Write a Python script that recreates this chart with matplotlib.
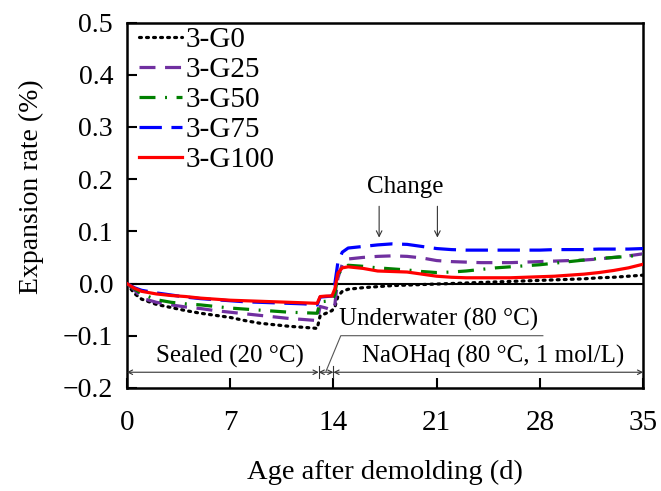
import matplotlib
matplotlib.use("Agg")
import matplotlib.pyplot as plt

days = [0, 0.5, 1, 2, 3, 4, 5, 6, 7, 8, 9, 10, 11, 12, 12.9, 13.1, 13.5, 13.9,
        14.1, 14.3, 14.6, 15, 16, 17, 18, 19, 20, 21, 22, 23, 24, 25, 26, 27, 28,
        29, 30, 31, 32, 33, 34, 35]

g0 = [0, -0.019, -0.030, -0.040, -0.046, -0.052, -0.057, -0.061, -0.065, -0.071,
      -0.076, -0.079, -0.082, -0.084, -0.086, -0.062, -0.057, -0.052,
      -0.045, -0.025, -0.015, -0.011, -0.008, -0.006, -0.004, -0.003, -0.002,
      -0.001, 0.000, 0.001, 0.002, 0.003, 0.004, 0.005, 0.006, 0.007, 0.008,
      0.009, 0.011, 0.012, 0.014, 0.016]
g25 = [0, -0.012, -0.028, -0.036, -0.041, -0.045, -0.048, -0.052, -0.055, -0.058,
       -0.061, -0.064, -0.067, -0.069, -0.071, -0.044, -0.047, -0.051,
       -0.040, 0.010, 0.037, 0.047, 0.050, 0.052, 0.053, 0.052, 0.049, 0.044,
       0.042, 0.041, 0.040, 0.040, 0.040, 0.041, 0.042, 0.043, 0.044, 0.045,
       0.047, 0.050, 0.053, 0.057]
g50 = [0, -0.010, -0.020, -0.031, -0.036, -0.039, -0.041, -0.044, -0.047, -0.049,
       -0.051, -0.053, -0.055, -0.056, -0.057, -0.035, -0.034, -0.033,
       -0.020, 0.015, 0.030, 0.035, 0.033, 0.030, 0.028, 0.026, 0.023, 0.021,
       0.022, 0.024, 0.027, 0.030, 0.032, 0.034, 0.036, 0.039, 0.042, 0.045,
       0.048, 0.050, 0.052, 0.055]
g75 = [0, -0.008, -0.013, -0.018, -0.022, -0.026, -0.029, -0.031, -0.033, -0.035,
       -0.036, -0.037, -0.038, -0.039, -0.041, -0.026, -0.025, -0.024,
       0.000, 0.040, 0.060, 0.068, 0.071, 0.074, 0.076, 0.075, 0.071, 0.067,
       0.065, 0.064, 0.064, 0.064, 0.064, 0.064, 0.064, 0.065, 0.065, 0.065,
       0.066, 0.066, 0.066, 0.067]
g100 = [0, -0.009, -0.015, -0.020, -0.023, -0.025, -0.028, -0.030, -0.032, -0.033,
        -0.034, -0.035, -0.036, -0.037, -0.038, -0.025, -0.024, -0.024,
        -0.010, 0.020, 0.030, 0.032, 0.029, 0.024, 0.023, 0.022, 0.018, 0.014,
        0.012, 0.011, 0.011, 0.011, 0.011, 0.012, 0.013, 0.014, 0.016, 0.018,
        0.021, 0.025, 0.030, 0.037]

labels = ["3-G0", "3-G25", "3-G50", "3-G75", "3-G100"]
colors = ["black", "#7030A0", "#008000", "#0000FF", "#FF0000"]
styles = [(0, (0.6, 1.6)), (0, (5, 3)), (0, (5, 3, 0.6, 3)), (0, (7, 3)), "-"]

xticks = [0, 7, 14, 21, 28, 35]
yticks = [-0.2, -0.1, 0.0, 0.1, 0.2, 0.3, 0.4, 0.5]

plt.rcParams['font.family'] = ['Liberation Serif', 'DejaVu Serif']

fig = plt.figure(figsize=(6.61, 4.91), dpi=100)
ax = fig.add_axes([0.192, 0.21, 0.781, 0.744])

ax.axhline(0, color="black", lw=1.5, zorder=1)
for ys, lab, c, ls in zip([g0, g25, g50, g75, g100], labels, colors, styles):
    cap = "round" if lab == "3-G0" else "butt"
    ax.plot(days, ys, color=c, ls=ls, lw=2.3, label=lab, dash_capstyle=cap, zorder=3)

ax.set_xlim(0, 35)
ax.set_ylim(-0.2, 0.5)
ax.set_xticks(xticks)
ax.set_yticks(yticks)
ax.set_yticklabels([f"{v:.1f}".replace("-", "\u2212") for v in yticks])
ax.tick_params(direction="in", length=7, width=1.5)
ax.tick_params(axis="x", labelsize=21, pad=16)
ax.tick_params(axis="y", labelsize=20, pad=10)
for s in ax.spines.values():
    s.set_linewidth(1.8)

ax.set_xlabel("Age after demolding (d)", fontsize=20.5, va="center")
ax.xaxis.set_label_coords(0.5, -0.232)
ax.set_ylabel("Expansion rate (%)", fontsize=20)
ax.yaxis.set_label_coords(-0.16, 0.55)

leg = ax.legend(loc="upper left", frameon=False, fontsize=21, handlelength=1.5,
                handletextpad=0.1, labelspacing=0.12, borderaxespad=0.0,
                bbox_to_anchor=(0.0, 1.02))

# period arrows
ya = -0.17
akw = dict(arrowstyle="<->", color="#333333", lw=0.8, shrinkA=0, shrinkB=0, mutation_scale=8)
for a, b in [(0, 13), (13, 14), (14, 35)]:
    ax.annotate("", xy=(a, ya), xytext=(b, ya), arrowprops=akw)
for xv in [13, 14]:
    ax.plot([xv, xv], [ya - 0.012, ya + 0.012], color="#333333", lw=0.8)

ax.text(7.0, -0.14, "Sealed (20 \u00b0C)", fontsize=18, ha="center", va="center")
ax.text(24.8, -0.14, "NaOHaq (80 \u00b0C, 1 mol/L)", fontsize=18, ha="center", va="center")
ax.text(14.4, -0.069, "Underwater (80 \u00b0C)", fontsize=18, ha="left", va="center")
ax.plot([13.5, 14.5, 28.2], [-0.168, -0.1, -0.1], color="#555555", lw=0.8)

ax.text(18.9, 0.184, "Change", fontsize=18, ha="center", va="center")
ckw = dict(arrowstyle="->", color="#333333", lw=0.8, mutation_scale=10, shrinkA=0, shrinkB=0)
for xv in [17.1, 21.05]:
    ax.annotate("", xy=(xv, 0.088), xytext=(xv, 0.148), arrowprops=ckw)

fig.savefig("out.png", dpi=100)
